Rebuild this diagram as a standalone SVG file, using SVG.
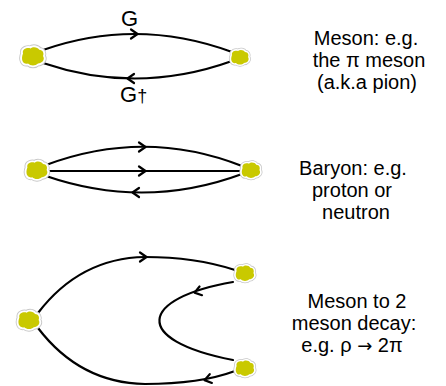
<svg xmlns="http://www.w3.org/2000/svg" xmlns:xlink="http://www.w3.org/1999/xlink" width="446" height="386" viewBox="0 0 446 386">
<style>
.ln{fill:none;stroke:#000;stroke-width:2.2;stroke-linecap:round}
.lbl{font-family:"Liberation Sans",Arial,sans-serif;font-size:20px;fill:#000;text-anchor:middle}
.gl{font-family:"Liberation Sans",Arial,sans-serif;font-size:22px;fill:#000}
</style>
<defs>
<path id="chev" d="M-6,-4.5 L0.5,0 L-6,4.5" fill="none" stroke="#000" stroke-width="2.2" stroke-linejoin="round" stroke-linecap="round"/>
<g id="blob">
<path d="M-8,-2 C-9,-6 -4,-7 -2,-6 C0,-8 4,-7 5,-5 C8,-5 9,-2 8,0 C10,3 7,6 4,6 C2,8 -2,8 -4,6 C-8,7 -10,3 -8,-2 Z" fill="none" stroke="#c8c8c8" stroke-width="4.5"/>
<path d="M-8,-2 C-9,-6 -4,-7 -2,-6 C0,-8 4,-7 5,-5 C8,-5 9,-2 8,0 C10,3 7,6 4,6 C2,8 -2,8 -4,6 C-8,7 -10,3 -8,-2 Z" fill="#fff" stroke="#fff" stroke-width="3"/>
<path d="M-8,-2 C-9,-6 -4,-7 -2,-6 C0,-8 4,-7 5,-5 C8,-5 9,-2 8,0 C10,3 7,6 4,6 C2,8 -2,8 -4,6 C-8,7 -10,3 -8,-2 Z" fill="#c9c900"/>
</g>
</defs>
<rect width="446" height="386" fill="#fff"/>
<g id="connectors">
<path class="ln" d="M43,50 Q137,17 232,52"/>
<path class="ln" d="M43,63 Q137,95 232,61"/>
<use xlink:href="#chev" transform="translate(137,34)"/>
<use xlink:href="#chev" transform="translate(128,78.5) rotate(180)"/>
<path class="ln" d="M46,165 Q145,128 242,166"/>
<path class="ln" d="M46,171 L242,171"/>
<path class="ln" d="M46,176 Q145,210 242,174"/>
<use xlink:href="#chev" transform="translate(145,147)"/>
<use xlink:href="#chev" transform="translate(145,171)"/>
<use xlink:href="#chev" transform="translate(133,192.5) rotate(180)"/>
<path class="ln" d="M38,313 Q80,258 145,257 Q195,257 235,270"/>
<path class="ln" d="M38,328 Q80,383 145,384 Q200,384 235,371"/>
<path class="ln" d="M233,282 C140,298 130,340 233,360"/>
<use xlink:href="#chev" transform="translate(146,257)"/>
<use xlink:href="#chev" transform="translate(205,380) rotate(166)"/>
<use xlink:href="#chev" transform="translate(195,292.5) rotate(164)"/>
</g>
<g id="node-meson-left"><use xlink:href="#blob" transform="translate(33,56) scale(1.25)"/></g>
<g id="node-meson-right"><use xlink:href="#blob" transform="translate(240,57) scale(1.0)"/></g>
<g id="node-baryon-left"><use xlink:href="#blob" transform="translate(37,170) scale(1.2)"/></g>
<g id="node-baryon-right"><use xlink:href="#blob" transform="translate(251,170) scale(1.05)"/></g>
<g id="node-decay-left"><use xlink:href="#blob" transform="translate(29,320) scale(1.2)"/></g>
<g id="node-decay-top"><use xlink:href="#blob" transform="translate(245,273) scale(1.05)"/></g>
<g id="node-decay-bottom"><use xlink:href="#blob" transform="translate(245,368) scale(1.05)"/></g>
<g id="labels">
<text class="gl" x="121" y="26">G</text>
<text class="gl" x="120" y="102">G<tspan font-size="18">†</tspan></text>
<text class="lbl" x="366" y="45">Meson: e.g.</text>
<text class="lbl" x="369" y="67">the π meson</text>
<text class="lbl" x="367" y="89">(a.k.a pion)</text>
<text class="lbl" x="353" y="175">Baryon: e.g.</text>
<text class="lbl" x="352" y="197">proton or</text>
<text class="lbl" x="356" y="219">neutron</text>
<text class="lbl" x="357" y="308">Meson to 2</text>
<text class="lbl" x="354" y="330">meson decay:</text>
<text class="lbl" x="352" y="352">e.g. ρ <tspan font-family="'DejaVu Sans',sans-serif" font-size="18">→</tspan> 2π</text>
</g>
</svg>
